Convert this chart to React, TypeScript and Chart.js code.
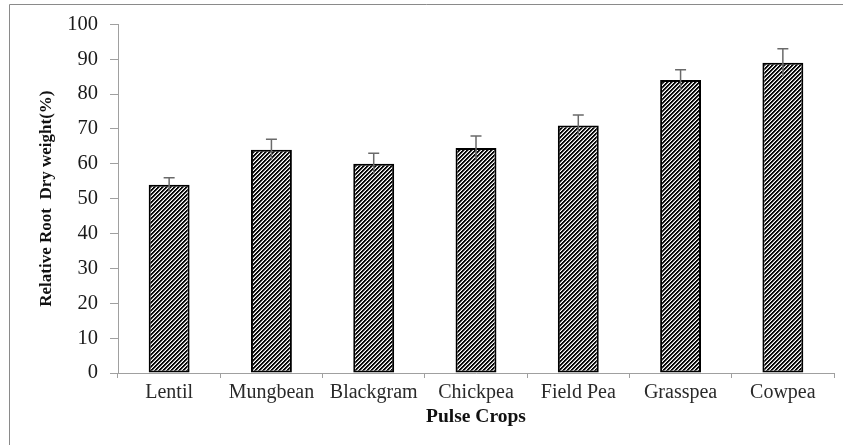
import React, { useEffect, useRef } from "react";
import { Chart, registerables } from "chart.js";

Chart.register(...registerables);

const categories = ["Lentil", "Mungbean", "Blackgram", "Chickpea", "Field Pea", "Grasspea", "Cowpea"];
const values = [54, 64, 60, 64.5, 71, 84, 89];
const errors = [2, 3, 3, 3.5, 3, 3, 4];
const yMin = 0;
const yMax = 100;
const yStep = 10;
const yTitle = "Relative Root  Dry weight(%)";
const xTitle = "Pulse Crops";

const SERIF = '"Liberation Serif", "Times New Roman", serif';

function makePattern(ctx: CanvasRenderingContext2D): CanvasPattern | string {
  const size = 4;
  const c = document.createElement("canvas");
  c.width = size;
  c.height = size;
  const p = c.getContext("2d");
  if (!p) return "#444";
  const img = p.createImageData(size, size);
  for (let yy = 0; yy < size; yy++) {
    for (let xx = 0; xx < size; xx++) {
      const k = (xx + yy) % size;
      const v = k === 0 || k === 1 ? 8 : k === 2 ? 150 : 255;
      const idx = (yy * size + xx) * 4;
      img.data[idx] = v;
      img.data[idx + 1] = v;
      img.data[idx + 2] = v;
      img.data[idx + 3] = 255;
    }
  }
  p.putImageData(img, 0, 0);
  return ctx.createPattern(c, "repeat") || "#444";
}

const errorBarPlugin = {
  id: "errorBars",
  afterDatasetsDraw(chart: any) {
    const { ctx, scales } = chart;
    const y = scales.y;
    const meta = chart.getDatasetMeta(0);
    ctx.save();
    ctx.strokeStyle = "#6a6a6a";
    ctx.lineWidth = 1.5;
    meta.data.forEach((bar: any, i: number) => {
      const cx = bar.x;
      const top = y.getPixelForValue(values[i] + errors[i]);
      const bot = y.getPixelForValue(values[i] - errors[i]);
      ctx.beginPath();
      ctx.moveTo(cx, top);
      ctx.lineTo(cx, bot);
      ctx.moveTo(cx - 5.5, top);
      ctx.lineTo(cx + 5.5, top);
      ctx.stroke();
    });
    ctx.restore();
  },
};

const frameBorderPlugin = {
  id: "frameBorder",
  afterDraw(chart: any) {
    const { ctx, width, height } = chart;
    ctx.save();
    ctx.strokeStyle = "#8a8a8a";
    ctx.lineWidth = 1;
    ctx.beginPath();
    ctx.moveTo(9.5, height + 2);
    ctx.lineTo(9.5, 4.5);
    ctx.lineTo(width + 2, 4.5);
    ctx.stroke();
    ctx.restore();
  },
};

export default function App() {
  const canvasRef = useRef<HTMLCanvasElement | null>(null);

  useEffect(() => {
    const canvas = canvasRef.current;
    if (!canvas) return;
    const ctx = canvas.getContext("2d");
    if (!ctx) return;
    const pattern = makePattern(ctx);

    const chart = new Chart(ctx, {
      type: "bar",
      data: {
        labels: categories,
        datasets: [
          {
            label: "Relative Root Dry weight",
            data: values,
            backgroundColor: pattern as any,
            borderColor: "#000000",
            borderWidth: 2,
            borderSkipped: false,
            barPercentage: 0.4,
            categoryPercentage: 1,
          },
        ],
      },
      options: {
        responsive: false,
        animation: false,
        devicePixelRatio: 1,
        layout: { padding: { top: 24, right: 9, bottom: 0, left: 0 } },
        plugins: {
          legend: { display: false },
          tooltip: { enabled: false },
          title: { display: false },
        },
        scales: {
          x: {
            offset: true,
            grid: {
              offset: true,
              drawOnChartArea: false,
              drawTicks: true,
              tickLength: 5,
              color: "#a0a0a0",
              lineWidth: 1,
            },
            border: { display: true, color: "#a0a0a0", width: 1 },
            ticks: {
              color: "#2a2a2a",
              padding: 3,
              font: { family: SERIF, size: 20 },
              maxRotation: 0,
              autoSkip: false,
            },
            title: {
              display: true,
              text: xTitle,
              color: "#111111",
              font: { family: SERIF, size: 19.5, weight: "bold" },
              padding: { top: 0, bottom: 16 },
            },
            afterFit(scale: any) {
              scale.height = 72;
            },
          },
          y: {
            min: yMin,
            max: yMax,
            grid: {
              drawOnChartArea: false,
              drawTicks: true,
              tickLength: 8,
              color: "#a0a0a0",
              lineWidth: 1,
            },
            border: { display: true, color: "#a0a0a0", width: 1 },
            ticks: {
              stepSize: yStep,
              color: "#1a1a1a",
              padding: 12,
              font: { family: SERIF, size: 20.5 },
            },
            title: {
              display: true,
              text: yTitle,
              color: "#111111",
              font: { family: SERIF, size: 17, weight: "bold" },
              padding: { top: 36, bottom: 0 },
            },
            afterFit(scale: any) {
              scale.width = 118;
            },
          },
        },
      },
      plugins: [errorBarPlugin, frameBorderPlugin],
    });

    return () => {
      chart.destroy();
    };
  }, []);

  return (
    <div style={{ position: "absolute", left: 0, top: 0, width: 843, height: 445, background: "#ffffff" }}>
      <canvas ref={canvasRef} width={843} height={445} style={{ display: "block", width: 843, height: 445 }} />
    </div>
  );
}
